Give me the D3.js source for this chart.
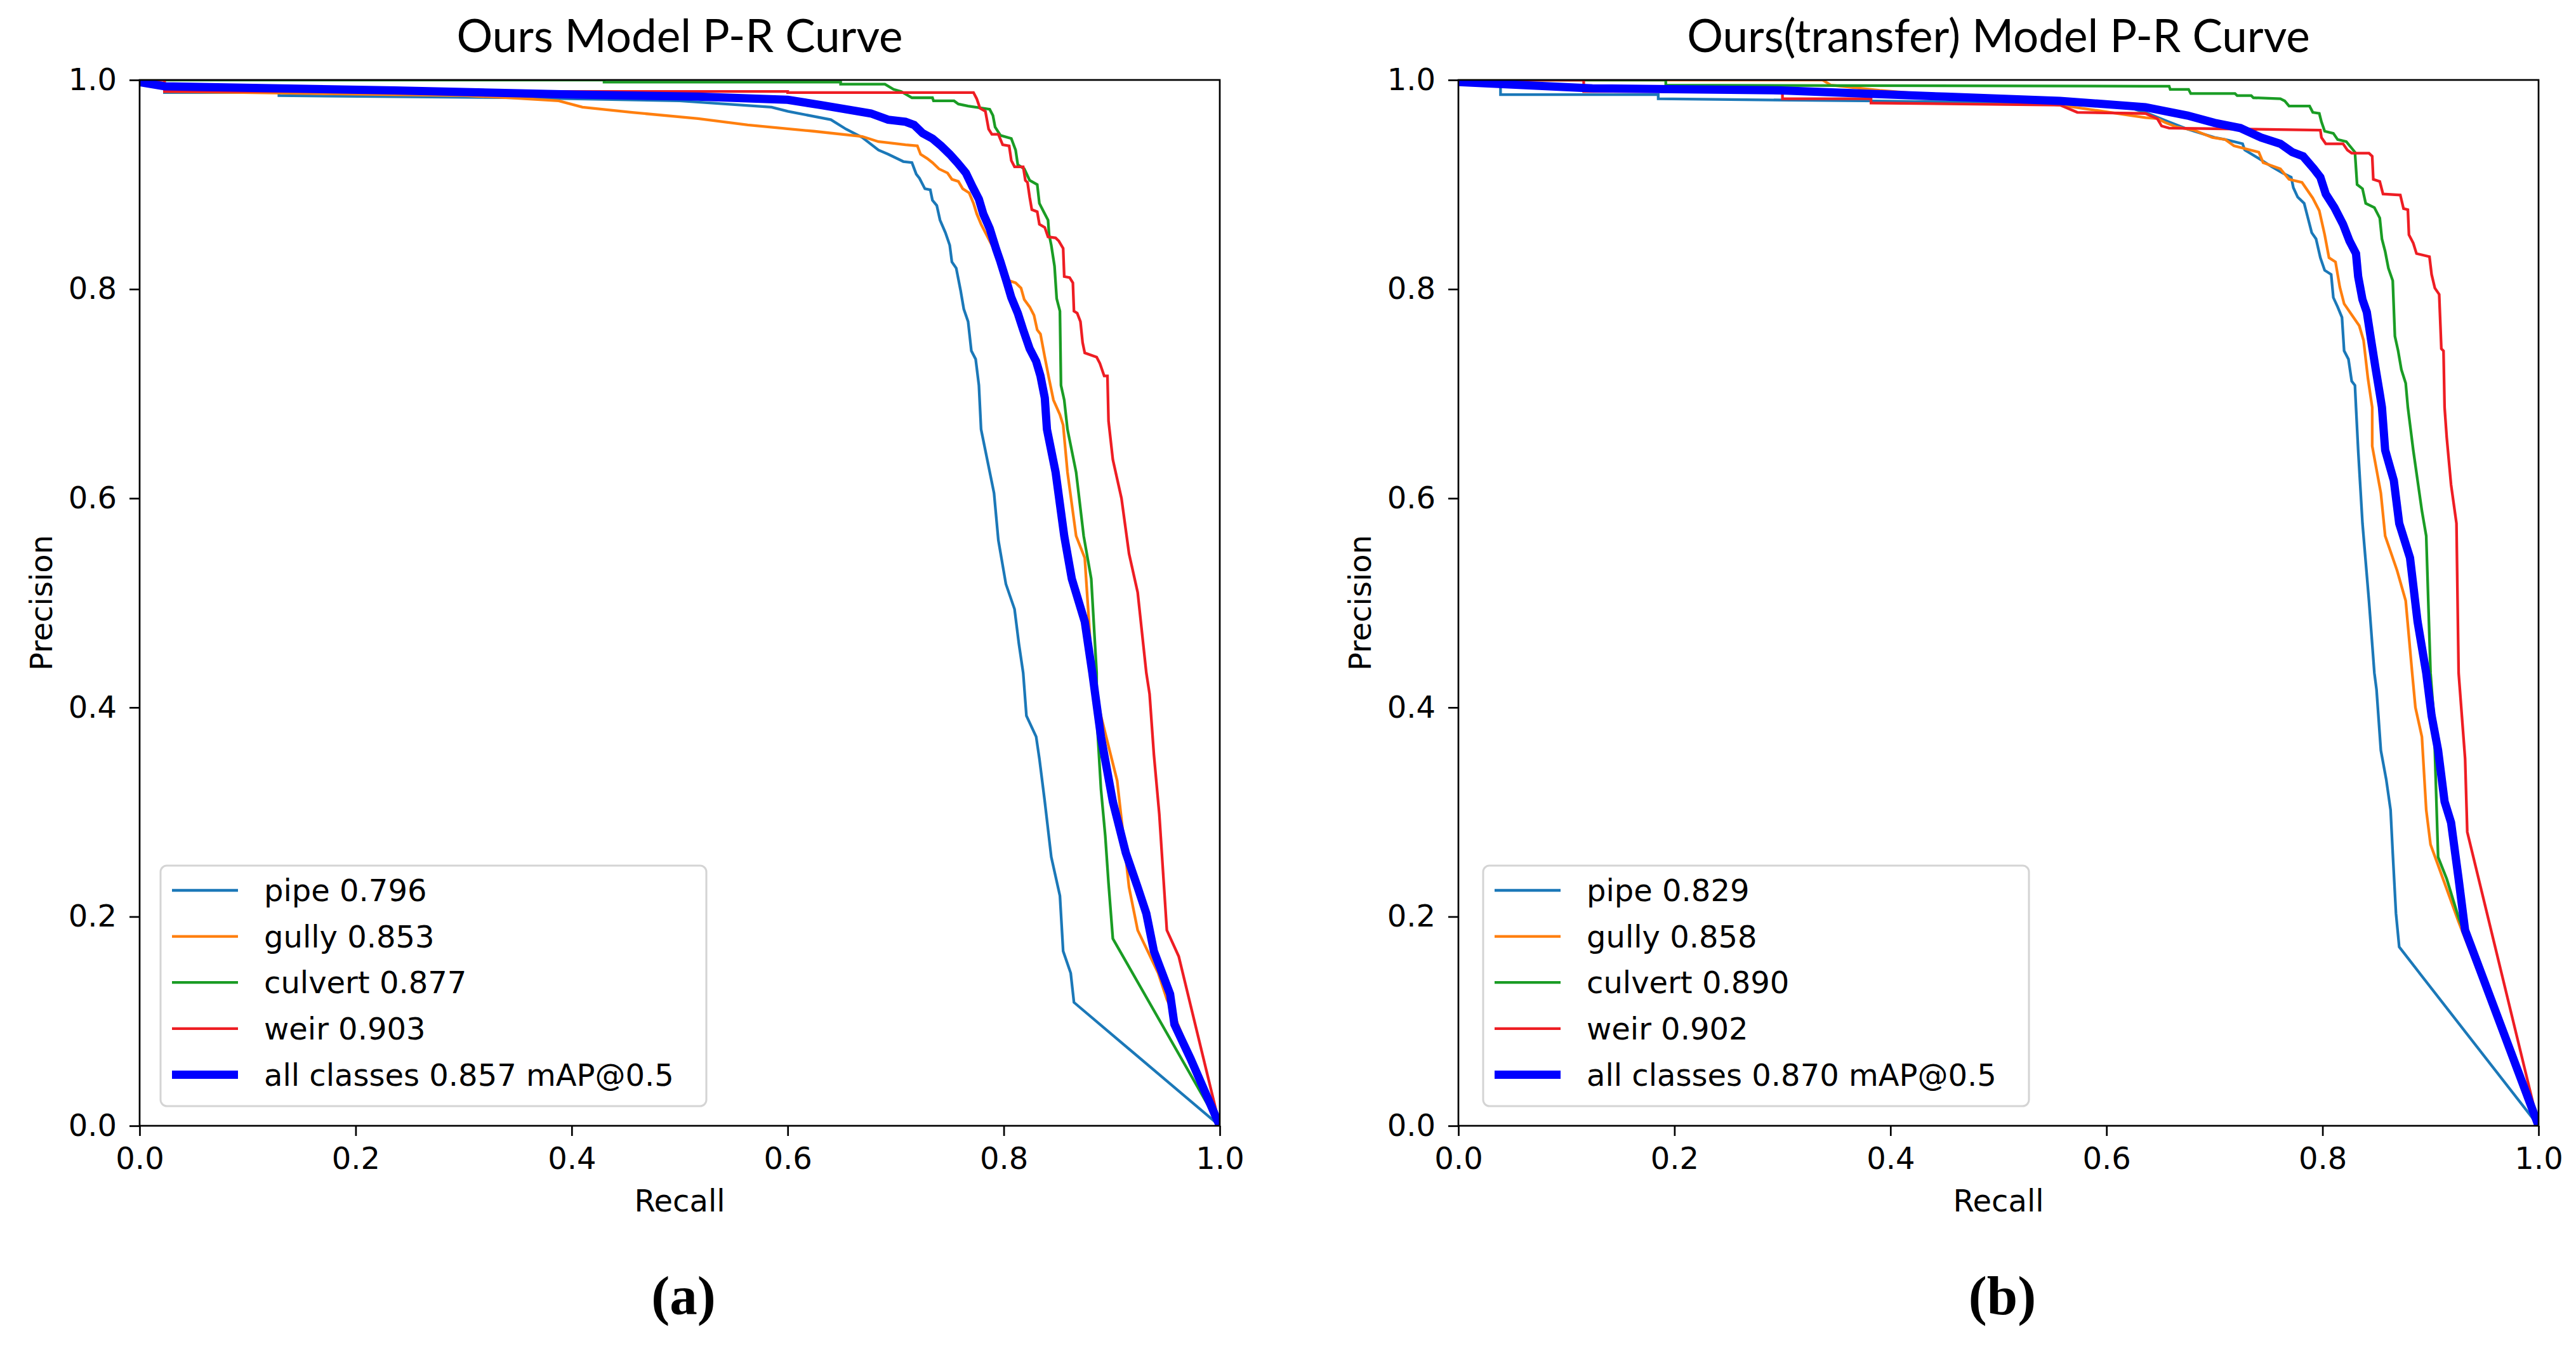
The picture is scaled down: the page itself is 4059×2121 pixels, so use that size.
<!DOCTYPE html>
<html>
<head>
<meta charset="utf-8">
<script src="https://cdn.jsdelivr.net/npm/d3@7"></script>
<style>
  body { margin: 0; background: #ffffff; }
  .tick text { font-family: "DejaVu Sans", sans-serif; font-size: 48px; fill: #000; }
  .tick line { stroke: #000; stroke-width: 2.7px; }
  .domain { display: none; }
</style>
</head>
<body>
<div id="container"></div>
<script>
//// DATA ///////////////////////////////////////////////////////////////////////
// Points are [recall, precision].

var classNames = ["pipe", "gully", "culvert", "weir", "all classes"];
var apLeft = ["0.796", "0.853", "0.877", "0.903", "0.857 mAP@0.5"];
var apRight = ["0.829", "0.858", "0.890", "0.902", "0.870 mAP@0.5"];
var tickValues = [0, 0.2, 0.4, 0.6, 0.8, 1.0];
var panelTitles = ["Ours Model P-R Curve", "Ours(transfer) Model P-R Curve"];
var panelTags = ["(a)", "(b)"];

// left panel (a)
var pipeA = [[0,1],[0.023,1],[0.023,0.988],[0.129,0.988],[0.129,0.985],[0.35,0.983],[0.5,0.98],
  [0.585,0.974],[0.6,0.97],[0.64,0.962],[0.654,0.953],[0.669,0.945],[0.684,0.933],[0.693,0.929],
  [0.707,0.922],[0.715,0.921],[0.719,0.91],[0.722,0.906],[0.727,0.896],[0.732,0.895],[0.734,0.885],
  [0.738,0.88],[0.741,0.866],[0.746,0.854],[0.75,0.842],[0.752,0.826],[0.756,0.82],[0.76,0.799],
  [0.763,0.781],[0.767,0.769],[0.77,0.741],[0.774,0.733],[0.777,0.708],[0.779,0.666],[0.791,0.605],
  [0.795,0.56],[0.802,0.518],[0.81,0.494],[0.814,0.461],[0.818,0.433],[0.821,0.392],[0.83,0.372],
  [0.833,0.351],[0.838,0.31],[0.844,0.257],[0.852,0.22],[0.855,0.167],[0.862,0.146],[0.865,0.118],[1,0]];
var gullyA = [[0,1],[0.023,1],[0.023,0.989],[0.3,0.985],[0.342,0.983],[0.388,0.98],[0.41,0.974],
  [0.456,0.969],[0.517,0.963],[0.563,0.957],[0.624,0.951],[0.669,0.946],[0.684,0.941],[0.693,0.94],
  [0.709,0.938],[0.72,0.937],[0.723,0.929],[0.729,0.925],[0.734,0.921],[0.74,0.915],[0.748,0.911],
  [0.752,0.905],[0.758,0.903],[0.762,0.896],[0.768,0.892],[0.772,0.882],[0.775,0.872],[0.779,0.862],
  [0.79,0.84],[0.799,0.826],[0.805,0.808],[0.811,0.806],[0.816,0.801],[0.819,0.79],[0.824,0.783],
  [0.828,0.775],[0.831,0.761],[0.834,0.757],[0.838,0.735],[0.842,0.714],[0.846,0.694],[0.852,0.68],
  [0.855,0.67],[0.859,0.625],[0.867,0.564],[0.875,0.543],[0.882,0.433],[0.89,0.392],[0.905,0.33],
  [0.916,0.228],[0.924,0.187],[0.943,0.146],[0.951,0.121],[0.96,0.1],[1,0]];
var culvertA = [[0,1],[0.43,1],[0.43,0.998],[0.649,0.998],[0.649,0.996],[0.69,0.996],[0.698,0.991],
  [0.705,0.989],[0.715,0.983],[0.734,0.983],[0.735,0.98],[0.754,0.98],[0.758,0.977],[0.767,0.975],
  [0.787,0.972],[0.79,0.966],[0.792,0.955],[0.797,0.947],[0.807,0.944],[0.811,0.933],[0.813,0.919],
  [0.819,0.915],[0.824,0.904],[0.831,0.9],[0.833,0.882],[0.837,0.874],[0.841,0.866],[0.842,0.852],
  [0.844,0.842],[0.847,0.822],[0.849,0.791],[0.852,0.779],[0.853,0.708],[0.856,0.694],[0.859,0.666],
  [0.867,0.625],[0.874,0.564],[0.881,0.523],[0.886,0.433],[0.886,0.392],[0.89,0.322],[0.894,0.277],
  [0.897,0.232],[0.901,0.179],[1,0]];
var weirA = [[0,1],[0.023,1],[0.023,0.989],[0.6,0.989],[0.6,0.988],[0.772,0.988],[0.775,0.982],
  [0.778,0.973],[0.783,0.97],[0.786,0.953],[0.789,0.948],[0.795,0.948],[0.799,0.938],[0.805,0.937],
  [0.807,0.923],[0.81,0.917],[0.818,0.917],[0.82,0.904],[0.822,0.902],[0.824,0.888],[0.826,0.876],
  [0.831,0.874],[0.833,0.862],[0.838,0.859],[0.841,0.85],[0.848,0.849],[0.851,0.846],[0.855,0.839],
  [0.856,0.812],[0.861,0.811],[0.864,0.806],[0.865,0.779],[0.868,0.777],[0.871,0.769],[0.873,0.749],
  [0.875,0.739],[0.886,0.735],[0.889,0.729],[0.893,0.717],[0.896,0.717],[0.897,0.674],[0.901,0.637],
  [0.909,0.6],[0.916,0.547],[0.924,0.51],[0.932,0.433],[0.935,0.413],[0.939,0.355],[0.944,0.298],
  [0.951,0.187],[0.962,0.162],[1,0]];
var allA = [[0,0.998],[0.023,0.994],[0.236,0.99],[0.403,0.986],[0.517,0.984],[0.6,0.981],[0.631,0.976],
  [0.677,0.968],[0.693,0.962],[0.709,0.96],[0.717,0.957],[0.725,0.949],[0.734,0.944],[0.742,0.937],
  [0.75,0.929],[0.757,0.921],[0.765,0.911],[0.771,0.898],[0.777,0.886],[0.781,0.872],[0.787,0.858],
  [0.793,0.838],[0.797,0.826],[0.803,0.806],[0.807,0.792],[0.813,0.777],[0.818,0.761],[0.824,0.743],
  [0.83,0.731],[0.834,0.717],[0.838,0.696],[0.84,0.666],[0.848,0.625],[0.856,0.564],[0.863,0.523],
  [0.875,0.482],[0.882,0.433],[0.89,0.372],[0.901,0.31],[0.913,0.261],[0.924,0.228],[0.932,0.203],
  [0.939,0.167],[0.954,0.126],[0.958,0.097],[0.973,0.064],[1,0]];

// right panel (b)
var pipeB = [[0,1],[0.039,1],[0.039,0.986],[0.185,0.986],[0.185,0.982],[0.375,0.98],[0.603,0.977],
  [0.62,0.974],[0.636,0.969],[0.655,0.961],[0.675,0.953],[0.7,0.945],[0.71,0.943],[0.726,0.939],
  [0.728,0.933],[0.741,0.925],[0.753,0.917],[0.763,0.911],[0.771,0.907],[0.773,0.897],[0.777,0.888],
  [0.783,0.882],[0.786,0.87],[0.79,0.854],[0.794,0.848],[0.798,0.83],[0.802,0.818],[0.808,0.814],
  [0.81,0.792],[0.814,0.783],[0.818,0.773],[0.82,0.741],[0.824,0.733],[0.827,0.712],[0.83,0.708],
  [0.831,0.687],[0.833,0.646],[0.837,0.576],[0.843,0.502],[0.848,0.433],[0.85,0.417],[0.854,0.359],
  [0.859,0.331],[0.863,0.302],[0.865,0.261],[0.868,0.203],[0.871,0.171],[1,0]];
var gullyB = [[0,1],[0.337,1],[0.345,0.995],[0.39,0.99],[0.557,0.976],[0.636,0.964],[0.647,0.963],
  [0.655,0.959],[0.665,0.955],[0.681,0.952],[0.698,0.945],[0.71,0.943],[0.718,0.937],[0.741,0.931],
  [0.745,0.921],[0.761,0.915],[0.769,0.905],[0.781,0.902],[0.791,0.887],[0.797,0.875],[0.802,0.852],
  [0.806,0.83],[0.812,0.826],[0.816,0.802],[0.82,0.786],[0.828,0.774],[0.834,0.765],[0.838,0.751],
  [0.842,0.715],[0.846,0.687],[0.846,0.65],[0.854,0.605],[0.858,0.564],[0.869,0.531],[0.877,0.502],
  [0.883,0.433],[0.886,0.4],[0.892,0.372],[0.896,0.302],[0.9,0.269],[0.926,0.195],[1,0]];
var culvertB = [[0,1],[0.192,1],[0.192,0.995],[0.636,0.994],[0.658,0.994],[0.659,0.991],[0.676,0.991],
  [0.678,0.987],[0.719,0.987],[0.721,0.985],[0.734,0.985],[0.736,0.983],[0.761,0.982],[0.765,0.98],
  [0.769,0.975],[0.788,0.975],[0.791,0.969],[0.797,0.968],[0.799,0.96],[0.802,0.951],[0.81,0.949],
  [0.814,0.943],[0.822,0.941],[0.83,0.931],[0.832,0.9],[0.837,0.896],[0.84,0.882],[0.848,0.878],
  [0.853,0.868],[0.855,0.848],[0.858,0.836],[0.861,0.82],[0.865,0.808],[0.867,0.755],[0.87,0.741],
  [0.873,0.723],[0.877,0.71],[0.879,0.687],[0.884,0.646],[0.892,0.588],[0.896,0.564],[0.9,0.433],
  [0.903,0.392],[0.907,0.257],[0.915,0.236],[0.926,0.199],[1,0]];
var weirB = [[0,1],[0.116,1],[0.116,0.989],[0.3,0.989],[0.3,0.982],[0.382,0.982],[0.382,0.978],
  [0.557,0.976],[0.573,0.969],[0.636,0.968],[0.647,0.963],[0.651,0.956],[0.658,0.954],[0.798,0.952],
  [0.799,0.945],[0.803,0.939],[0.819,0.939],[0.823,0.933],[0.827,0.93],[0.843,0.93],[0.846,0.927],
  [0.847,0.905],[0.853,0.903],[0.856,0.891],[0.872,0.89],[0.875,0.877],[0.879,0.876],[0.88,0.852],
  [0.884,0.844],[0.887,0.834],[0.899,0.831],[0.901,0.814],[0.904,0.801],[0.908,0.795],[0.91,0.743],
  [0.912,0.741],[0.913,0.687],[0.915,0.658],[0.919,0.613],[0.924,0.576],[0.926,0.433],[0.929,0.392],
  [0.932,0.351],[0.934,0.281],[1,0]];
var allB = [[0,0.998],[0.124,0.992],[0.299,0.99],[0.451,0.984],[0.557,0.98],[0.636,0.974],[0.655,0.97],
  [0.675,0.966],[0.7,0.959],[0.724,0.954],[0.743,0.945],[0.761,0.939],[0.772,0.931],[0.782,0.927],
  [0.792,0.915],[0.798,0.907],[0.803,0.891],[0.811,0.878],[0.819,0.862],[0.825,0.846],[0.831,0.834],
  [0.833,0.812],[0.837,0.79],[0.841,0.778],[0.845,0.751],[0.849,0.725],[0.853,0.7],[0.855,0.687],
  [0.858,0.646],[0.866,0.617],[0.871,0.576],[0.881,0.543],[0.888,0.482],[0.896,0.433],[0.901,0.392],
  [0.907,0.359],[0.913,0.31],[0.919,0.29],[0.926,0.236],[0.932,0.187],[1,0]];


//// SETTINGS ///////////////////////////////////////////////////////////////////
var width = 4059,
    height = 2121;

var plot_top = 126,
    plot_bottom = 1774,
    plot_width = 1702;

var panel_left = [220, 2298];
var legend_offset = [33, 39];   // the two legends do not sit at quite the same spot

var colors = ["#1b78b8", "#ff7f0e", "#1a9c24", "#ee1d23", "#0000ff"];
var line_widths = [4.3, 4.3, 4.3, 4.3, 13];

var legend_top = 1364,
    legend_height = 379,
    legend_width = 860,
    legend_row0 = 1403,
    legend_row_step = 72.6;


//// UI SETUP ///////////////////////////////////////////////////////////////////
var svg = d3.select("#container").append("svg")
            .attr("width", width)
            .attr("height", height)
            .style("display", "block");

svg.append("rect")
    .attr("width", width)
    .attr("height", height)
    .attr("fill", "#ffffff");

function append_panel(index, curves, aps) {
    var left = panel_left[index];
    var x = d3.scaleLinear().domain([0, 1]).range([left, left + plot_width]);
    var y = d3.scaleLinear().domain([0, 1]).range([plot_bottom, plot_top]);

    var panel = svg.append("g");

    // Keep the curves inside the axes, like matplotlib does.
    var clip_id = "clip" + index;
    panel.append("clipPath").attr("id", clip_id)
        .append("rect")
        .attr("x", left)
        .attr("y", plot_top)
        .attr("width", plot_width)
        .attr("height", plot_bottom - plot_top);

    var line = d3.line()
        .x(function(d) { return x(d[0]); })
        .y(function(d) { return y(d[1]); });

    var curve_group = panel.append("g").attr("clip-path", "url(#" + clip_id + ")");
    curves.forEach(function(points, i) {
        curve_group.append("path")
            .datum(points)
            .attr("d", line)
            .attr("fill", "none")
            .attr("stroke", colors[i])
            .attr("stroke-width", line_widths[i])
            .attr("stroke-linejoin", "miter");
    });

    // Axes with their ticks.
    panel.append("g")
        .attr("transform", "translate(0," + plot_bottom + ")")
        .call(d3.axisBottom(x).tickValues(tickValues)
              .tickFormat(d3.format(".1f")).tickSize(16).tickPadding(18));

    panel.append("g")
        .attr("transform", "translate(" + left + ",0)")
        .call(d3.axisLeft(y).tickValues(tickValues)
              .tickFormat(d3.format(".1f")).tickSize(16).tickPadding(20));

    // Frame on all four sides.
    panel.append("rect")
        .attr("x", x(0))
        .attr("y", y(1))
        .attr("width", x(1) - x(0))
        .attr("height", y(0) - y(1))
        .attr("fill", "none")
        .attr("stroke", "#000")
        .attr("stroke-width", 2.7);

    // Titles and labels.
    var mid_x = (x(0) + x(1)) / 2;

    panel.append("text")
        .attr("x", mid_x)
        .attr("y", 82)
        .style("text-anchor", "middle")
        .style("font-family", "Lato, sans-serif")
        .style("font-size", "71px")
        .text(panelTitles[index]);

    panel.append("text")
        .attr("x", mid_x)
        .attr("y", 1909)
        .style("text-anchor", "middle")
        .style("font-family", "DejaVu Sans, sans-serif")
        .style("font-size", "48px")
        .text("Recall");

    panel.append("text")
        .attr("transform", "translate(" + (left - 138) + "," + ((y(0) + y(1)) / 2) + ") rotate(-90)")
        .style("text-anchor", "middle")
        .style("font-family", "DejaVu Sans, sans-serif")
        .style("font-size", "48px")
        .text("Precision");

    panel.append("text")
        .attr("x", mid_x + 6)
        .attr("y", 2071)
        .style("text-anchor", "middle")
        .style("font-family", "Liberation Serif, serif")
        .style("font-weight", "bold")
        .style("font-size", "87px")
        .text(panelTags[index]);

    // The legend box.
    var legend_left = left + legend_offset[index];
    var legend = panel.append("g");

    legend.append("rect")
        .attr("x", legend_left)
        .attr("y", legend_top)
        .attr("width", legend_width)
        .attr("height", legend_height)
        .attr("rx", 10)
        .attr("fill", "#ffffff")
        .attr("fill-opacity", 0.8)
        .attr("stroke", "#d4d4d4")
        .attr("stroke-width", 3);

    classNames.forEach(function(name, i) {
        var row_y = legend_row0 + i * legend_row_step;
        legend.append("line")
            .attr("x1", legend_left + 18)
            .attr("x2", legend_left + 122)
            .attr("y1", row_y)
            .attr("y2", row_y)
            .attr("stroke", colors[i])
            .attr("stroke-width", line_widths[i]);
        legend.append("text")
            .attr("x", legend_left + 163)
            .attr("y", row_y)
            .attr("dy", "0.36em")
            .style("font-family", "DejaVu Sans, sans-serif")
            .style("font-size", "48px")
            .text(name + " " + aps[i]);
    });
}

append_panel(0, [pipeA, gullyA, culvertA, weirA, allA], apLeft);
append_panel(1, [pipeB, gullyB, culvertB, weirB, allB], apRight);
</script>
</body>
</html>
